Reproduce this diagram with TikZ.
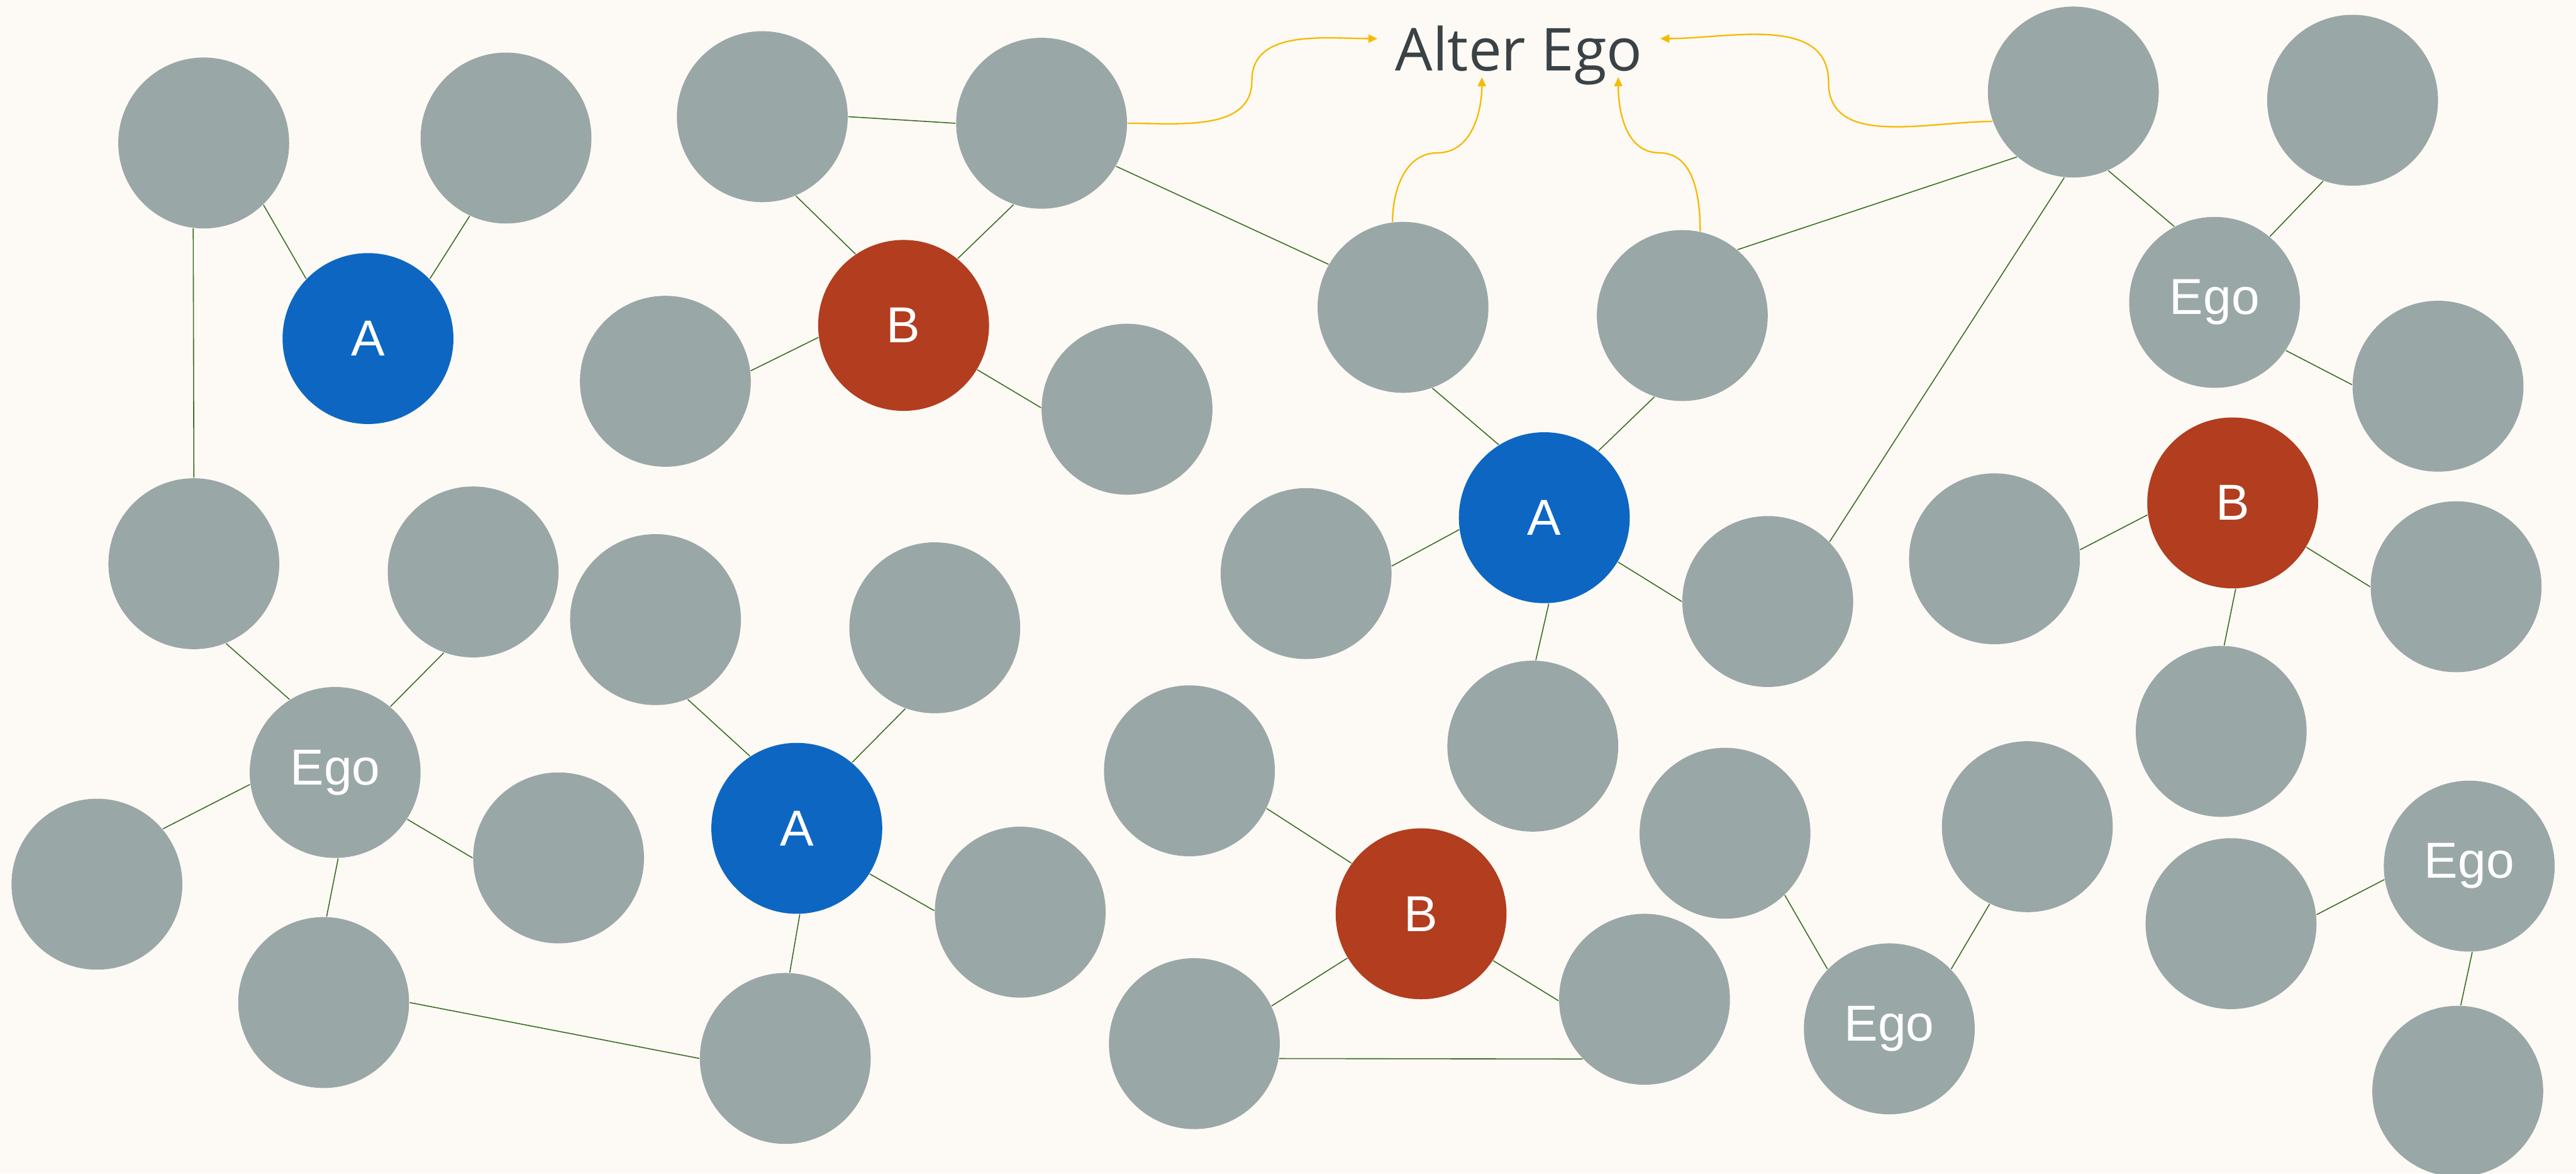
\documentclass[tikz,border=0pt]{standalone}
\usepackage{fontspec}
\setmainfont{Liberation Sans}
\newfontfamily\alterfont{Open Sans}
\usepackage{xcolor}
\usepackage{tikz}
\usetikzlibrary{arrows.meta}
\definecolor{bgcream}{RGB}{253,250,245}
\definecolor{peergray}{RGB}{154,167,167}
\definecolor{egoblue}{RGB}{13,103,194}
\definecolor{egored}{RGB}{178,61,31}
\definecolor{tiegreen}{RGB}{62,110,40}
\definecolor{altergold}{RGB}{246,186,0}
\definecolor{textdark}{RGB}{58,66,69}

\begin{document}
\begin{tikzpicture}[
    peer/.style={circle, fill=peergray, minimum size=2.08cm, inner sep=0pt, text=white,
                 font=\fontsize{17.5}{20}\selectfont},
    nodeA/.style={peer, fill=egoblue},
    nodeB/.style={peer, fill=egored},
    tie/.style={draw=tiegreen, line width=0.35pt},
    pointer/.style={draw=altergold, line width=0.5pt, -{Triangle[length=1.1mm,width=1mm]}}
  ]
  \fill[bgcream] (0,0) rectangle (31.36,14.28);
  \useasboundingbox (0,0) rectangle (31.36,14.28);

  % top row
  \node[peer] (p1) at (2.48,12.54) {};
  \node[peer] (p2) at (6.16,12.60) {};
  \node[nodeA] (a1) at (4.48,10.16) {A};
  \node[peer] (p3) at (9.28,12.86) {};
  \node[peer] (p4) at (12.68,12.78) {};
  \node[nodeB] (b1) at (11.00,10.32) {B};
  \node[peer] (p5) at (8.10,9.64) {};
  \node[peer] (p6) at (13.72,9.30) {};
  \node[peer] (p7) at (17.08,10.54) {};
  \node[peer] (p8) at (20.48,10.44) {};
  \node[nodeA] (a2) at (18.80,7.98) {A};
  \node[peer] (p9) at (15.90,7.30) {};
  \node[peer] (p10) at (21.52,6.96) {};
  \node[peer] (p11) at (18.66,5.20) {};
  \node[peer] (p12) at (25.24,13.16) {};
  \node[peer] (p13) at (28.64,13.06) {};
  \node[peer] (e1) at (26.96,10.60) {Ego};
  \node[peer] (p14) at (29.68,9.58) {};
  \node[nodeB] (b2) at (27.18,8.16) {B};
  \node[peer] (p15) at (24.28,7.48) {};
  \node[peer] (p16) at (29.90,7.14) {};
  \node[peer] (p17) at (27.04,5.38) {};

  % bottom row
  \node[peer] (p18) at (2.36,7.42) {};
  \node[peer] (p19) at (5.76,7.32) {};
  \node[peer] (e2) at (4.08,4.88) {Ego};
  \node[peer] (p20) at (1.18,3.52) {};
  \node[peer] (p21) at (6.80,3.84) {};
  \node[peer] (p22) at (3.94,2.08) {};
  \node[peer] (p23) at (7.98,6.74) {};
  \node[peer] (p24) at (11.38,6.64) {};
  \node[nodeA] (a3) at (9.70,4.20) {A};
  \node[peer] (p25) at (12.42,3.18) {};
  \node[peer] (p26) at (9.56,1.40) {};
  \node[peer] (p27) at (14.48,4.90) {};
  \node[nodeB] (b3) at (17.30,3.16) {B};
  \node[peer] (p28) at (14.54,1.58) {};
  \node[peer] (p29) at (20.02,2.12) {};
  \node[peer] (p30) at (21.00,4.14) {};
  \node[peer] (p31) at (24.68,4.22) {};
  \node[peer] (e3) at (23.00,1.76) {Ego};
  \node[peer] (p32) at (27.16,3.04) {};
  \node[peer] (e4) at (30.06,3.74) {Ego};
  \node[peer] (p33) at (29.92,1.00) {};

  % ties
  \draw[tie] (p1.-46) -- (a1.136) (p2.245) -- (a1.44) (p1.263) -- (p18.north);
  \draw[tie] (p3.east) -- (p4.west) (p3.293) -- (b1.124) (p4.251) -- (b1.51)
             (p5.7) -- (b1.188) (p6.179) -- (b1.329);
  \draw[tie] (p4.-30) -- (p7.150) (p7.290) -- (a2.122) (p8.251) -- (a2.51)
             (p9.5) -- (a2.188) (p10.180) -- (a2.329) (p11.88) -- (a2.273);
  \draw[tie] (p8.50) -- (p12.229) (p12.264) -- (p10.44) (p12.294) -- (e1.118)
             (p13.250) -- (e1.50) (p14.179) -- (e1.326);
  \draw[tie] (p15.6) -- (b2.188) (p16.180) -- (b2.329) (p17.88) -- (b2.272);
  \draw[tie] (p18.292) -- (e2.122) (p19.250) -- (e2.50) (p20.40) -- (e2.188)
             (p21.180) -- (e2.327) (p22.88) -- (e2.272) (p22.east) -- (p26.west);
  \draw[tie] (p23.292) -- (a3.123) (p24.250) -- (a3.50) (p25.179) -- (a3.328) (p26.87) -- (a3.272);
  \draw[tie] (p27.334) -- (b3.144) (p28.26) -- (b3.211) (p29.181) -- (b3.327) (p28.-10) -- (p29.224);
  \draw[tie] (p30.314) -- (e3.136) (p31.244) -- (e3.44) (p32.6) -- (e4.189) (p33.88) -- (e4.272);

  % alter ego label
  \node[text=textdark, font=\alterfont\fontsize{20.5}{24}\selectfont, inner xsep=0.21cm, inner ysep=0pt, anchor=base]
    (alter) at (18.49,13.42) {Alter Ego};
  \coordinate (bendL) at (15.24,13.30);
  \coordinate (bendR) at (22.26,13.28);
  \coordinate (kinkL) at (17.50,12.42);
  \coordinate (kinkR) at (20.20,12.42);
  \draw[pointer] (p4.east) to[out=0,in=-90] (bendL) to[out=90,in=180] ([yshift=0.39cm]alter.base west);
  \draw[pointer] (p12.200) to[out=180,in=-90] (bendR) to[out=90,in=0] ([yshift=0.39cm]alter.base east);
  \draw[pointer] (p7.97) to[out=90,in=180] (kinkL) to[out=0,in=-90] ([xshift=-0.45cm,yshift=-0.08cm]alter.base);
  \draw[pointer] (p8.78) to[out=90,in=0] (kinkR) to[out=180,in=-90] ([xshift=1.21cm,yshift=-0.08cm]alter.base);
\end{tikzpicture}
\end{document}
